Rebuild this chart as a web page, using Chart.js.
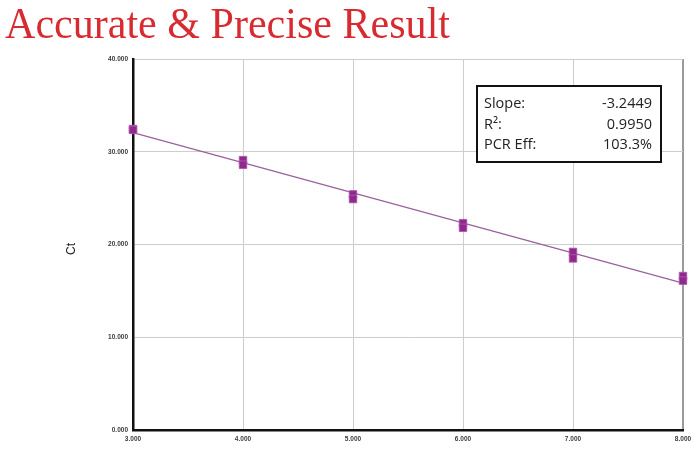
<!DOCTYPE html>
<html lang="en">
<head>
<meta charset="UTF-8">
<title>Accurate &amp; Precise Result</title>
<script src="https://cdn.jsdelivr.net/npm/chart.js"></script>
<style>
  html, body { margin: 0; padding: 0; background: #fff; }
  #wrap { width: 699px; height: 450px; }
</style>
</head>
<body>
<div id="wrap"><canvas id="stdCurve" width="699" height="450"></canvas></div>
<script>
// log quantity vs Ct, two replicates per dilution
const logQty = [3, 4, 5, 6, 7, 8];
const ctRep1 = [32.45, 29.1, 25.4, 22.3, 19.2, 16.6];
const ctRep2 = [32.35, 28.6, 24.9, 21.8, 18.5, 16.1];
// fit line ends
const fitX = [3, 8];
const fitCt = [32.05, 15.83];
const xTicks = [3, 4, 5, 6, 7, 8];
const yTicks = [0, 10, 20, 30, 40];
const statLabels = ['Slope:', 'R²:', 'PCR Eff:'];
const statValues = ['-3.2449', '0.9950', '103.3%'];

const points = [];
logQty.forEach((x, i) => {
    points.push({ x: x, y: ctRep1[i] });
    points.push({ x: x, y: ctRep2[i] });
});

const overlay = {
    id: 'overlay',
    afterDraw(chart) {
        const ctx = chart.ctx;
        // heading
        ctx.save();
        ctx.font = '45px "Liberation Serif", serif';
        ctx.fillStyle = '#d72b31';
        ctx.textBaseline = 'alphabetic';
        const t = 'Accurate & Precise Result';
        const w = ctx.measureText(t).width;
        ctx.translate(5, 38);
        ctx.scale(445 / w, 1);
        ctx.fillText(t, 0, 0);
        ctx.restore();

        // y axis title
        ctx.save();
        ctx.font = '12px "Liberation Sans", Arial, sans-serif';
        ctx.fillStyle = '#222';
        ctx.translate(72, 249);
        ctx.rotate(-Math.PI / 2);
        ctx.textAlign = 'center';
        ctx.textBaseline = 'middle';
        ctx.fillText('Ct', 0, 0);
        ctx.restore();

        // stats box
        ctx.save();
        ctx.fillStyle = '#fff';
        ctx.fillRect(477, 86, 184, 76);
        ctx.strokeStyle = '#111';
        ctx.lineWidth = 2;
        ctx.strokeRect(477, 86, 184, 76);
        ctx.font = '14.5px "Open Sans", sans-serif';
        ctx.fillStyle = '#222';
        ctx.textBaseline = 'alphabetic';
        statLabels.forEach((lab, i) => {
            const y = 108 + i * 20.5;
            ctx.textAlign = 'left';
            ctx.fillText(lab, 484, y);
            ctx.textAlign = 'right';
            ctx.fillText(statValues[i], 652, y);
        });
        ctx.restore();
    }
};

const tickFont = { family: '"Liberation Sans", Arial, sans-serif', size: 6.5, weight: 'bold' };

new Chart(document.getElementById('stdCurve'), {
    type: 'scatter',
    data: {
        datasets: [
            {
                label: 'Replicates',
                data: points,
                pointStyle: 'rect',
                pointRadius: 5.3,
                backgroundColor: '#8e2a8c',
                borderColor: 'rgba(175,85,175,0.9)',
                borderWidth: 1,
                clip: false,
                order: 1
            },
            {
                label: 'Fit',
                type: 'line',
                data: fitX.map((x, i) => ({ x: x, y: fitCt[i] })),
                borderColor: '#9c609c',
                borderWidth: 1.3,
                pointRadius: 0,
                fill: false,
                clip: false,
                order: 2
            }
        ]
    },
    options: {
        responsive: false,
        animation: false,
        layout: { padding: { top: 59, right: 16, left: 0, bottom: 0 } },
        plugins: {
            legend: { display: false },
            tooltip: { enabled: false },
            title: { display: false }
        },
        scales: {
            x: {
                type: 'linear',
                min: 3,
                max: 8,
                afterBuildTicks: s => { s.ticks = xTicks.map(v => ({ value: v })); },
                afterFit: s => { s.height = 20; },
                ticks: {
                    font: tickFont,
                    color: '#3a3a3a',
                    padding: 5,
                    callback: v => v.toFixed(3)
                },
                grid: {
                    drawTicks: false,
                    color: c => c.tick && c.tick.value === 8 ? '#9a9a9a' : '#cdcdcd',
                    lineWidth: c => c.tick && c.tick.value === 8 ? 2 : 1
                },
                border: { color: '#111', width: 2.5 }
            },
            y: {
                min: 0,
                max: 40,
                afterBuildTicks: s => { s.ticks = yTicks.map(v => ({ value: v })); },
                afterFit: s => { s.width = 133; },
                ticks: {
                    font: tickFont,
                    color: '#3a3a3a',
                    padding: 5,
                    callback: v => v.toFixed(3)
                },
                grid: {
                    drawTicks: false,
                    color: '#cdcdcd',
                    lineWidth: 1
                },
                border: { color: '#111', width: 2.5 }
            }
        }
    },
    plugins: [overlay]
});
</script>
</body>
</html>
